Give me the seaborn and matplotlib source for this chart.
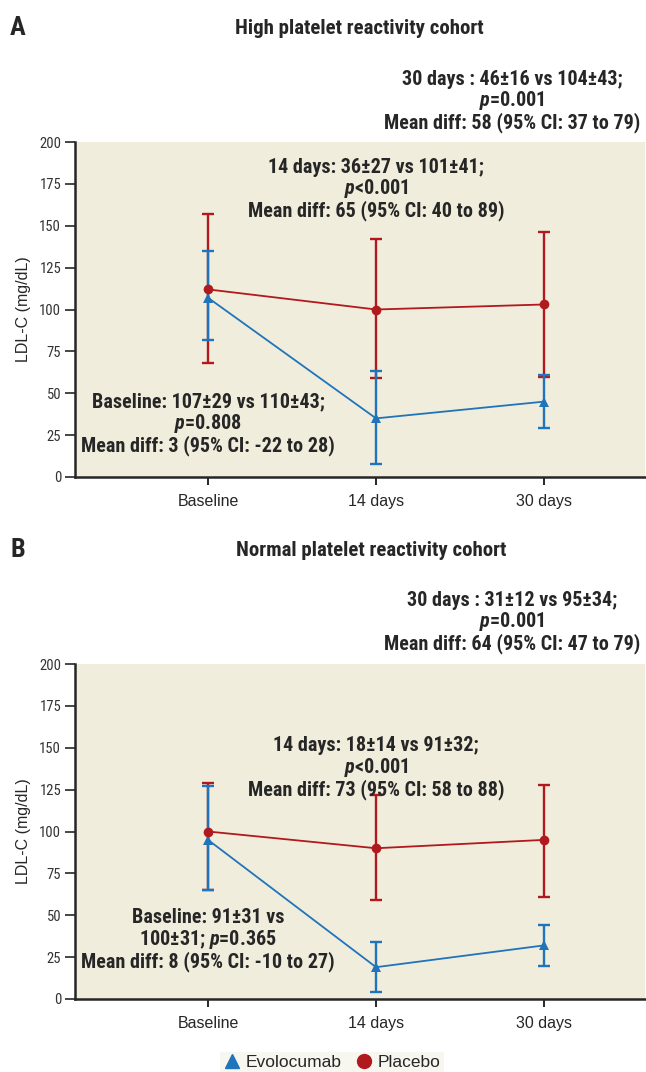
import numpy as np
import pandas as pd
import matplotlib
matplotlib.use("Agg")
import matplotlib.pyplot as plt
import seaborn as sns
from matplotlib import font_manager
from matplotlib.lines import Line2D

# %% data
timepoints = ["Baseline", "14 days", "30 days"]

# A: high platelet reactivity cohort (LDL-C, mg/dL)
a_evo_mean = [107, 35, 45]
a_evo_lo = [82, 8, 29]
a_evo_hi = [135, 63, 61]
a_pla_mean = [112, 100, 103]
a_pla_lo = [68, 59, 60]
a_pla_hi = [157, 142, 146]

# B: normal platelet reactivity cohort
b_evo_mean = [95, 19, 32]
b_evo_lo = [65, 4, 20]
b_evo_hi = [127, 34, 44]
b_pla_mean = [100, 90, 95]
b_pla_lo = [65, 59, 61]
b_pla_hi = [129, 122, 128]

a_notes = ["Baseline: 107±29 vs 110±43;\n$\\mathit{p}$=0.808\nMean diff: 3 (95% CI: -22 to 28)",
           "14 days: 36±27 vs 101±41;\n$\\mathit{p}$<0.001\nMean diff: 65 (95% CI: 40 to 89)",
           "30 days : 46±16 vs 104±43;\n$\\mathit{p}$=0.001\nMean diff: 58 (95% CI: 37 to 79)"]
b_notes = ["Baseline: 91±31 vs\n100±31; $\\mathit{p}$=0.365\nMean diff: 8 (95% CI: -10 to 27)",
           "14 days: 18±14 vs 91±32;\n$\\mathit{p}$<0.001\nMean diff: 73 (95% CI: 58 to 88)",
           "30 days : 31±12 vs 95±34;\n$\\mathit{p}$=0.001\nMean diff: 64 (95% CI: 47 to 79)"]

# %% style
sns.set_style("ticks")
available = {f.name for f in font_manager.fontManager.ttflist}
narrow = "DejaVu Sans"
for name in ["Liberation Sans Narrow", "DejaVu Sans Condensed", "Roboto Condensed", "Open Sans Condensed"]:
    if name in available:
        narrow = name
        break
plt.rcParams["font.family"] = ["Liberation Sans", "DejaVu Sans"]
plt.rcParams["mathtext.fontset"] = "custom"
plt.rcParams["mathtext.it"] = narrow + ":italic:bold"
plt.rcParams["mathtext.rm"] = narrow + ":bold"

blue = "#1f74bb"
red = "#b0191e"
bg = "#f1eddc"

fig = plt.figure(figsize=(6.46, 10.72), dpi=100)
ax_a = fig.add_axes([75/646, 1-477/1072, 570/646, 335/1072])
ax_b = fig.add_axes([75/646, 1-999/1072, 570/646, 335/1072])


def draw_panel(ax, evo_mean, evo_lo, evo_hi, pla_mean, pla_lo, pla_hi, notes, note_y):
    x = np.arange(len(timepoints))
    df = pd.DataFrame({"x": np.concatenate([x, x]),
                       "ldl": evo_mean + pla_mean,
                       "group": ["Evolocumab"] * len(x) + ["Placebo"] * len(x)})
    ax.errorbar(x, pla_mean, yerr=[np.subtract(pla_mean, pla_lo), np.subtract(pla_hi, pla_mean)],
                fmt="none", ecolor=red, elinewidth=1.7, capsize=4.5, capthick=1.7)
    ax.errorbar(x, evo_mean, yerr=[np.subtract(evo_mean, evo_lo), np.subtract(evo_hi, evo_mean)],
                fmt="none", ecolor=blue, elinewidth=1.7, capsize=4.5, capthick=1.7)
    sns.lineplot(data=df, x="x", y="ldl", hue="group", style="group",
                 palette={"Evolocumab": blue, "Placebo": red},
                 markers={"Evolocumab": "^", "Placebo": "o"}, dashes=False,
                 linewidth=1.3, markersize=7, markeredgewidth=0, legend=False, ax=ax)
    ax.set_facecolor(bg)
    ax.set_xlim(-0.792, 2.601)
    ax.set_ylim(0, 200)
    ax.set_yticks(range(0, 201, 25))
    ax.set_xticks(x, timepoints)
    ax.set_xlabel("")
    ax.set_ylabel("LDL-C (mg/dL)", fontsize=11.5, labelpad=6)
    for lab in ax.get_yticklabels():
        lab.set_fontfamily(narrow)
        lab.set_fontsize(10.5)
        lab.set_color("#333333")
    for lab in ax.get_xticklabels():
        lab.set_fontsize(11.5)
    ax.tick_params(axis="y", length=7, width=1.2, pad=3)
    ax.tick_params(axis="x", length=6, width=1.4, pad=6)
    ax.spines["top"].set_visible(False)
    ax.spines["right"].set_visible(False)
    ax.spines["left"].set_linewidth(1.8)
    ax.spines["bottom"].set_linewidth(1.8)
    note_x = [0, 1, 1.81]
    for nx, ny, txt in zip(note_x, note_y, notes):
        ax.text(nx, ny, txt, ha="center", va="center", fontsize=14.5, fontweight="bold",
                family=narrow, linespacing=1.02, clip_on=False)


draw_panel(ax_a, a_evo_mean, a_evo_lo, a_evo_hi, a_pla_mean, a_pla_lo, a_pla_hi, a_notes, [31.7, 171.6, 224])
draw_panel(ax_b, b_evo_mean, b_evo_lo, b_evo_hi, b_pla_mean, b_pla_lo, b_pla_hi, b_notes, [35.3, 138, 224.8])

fig.text(10/646, 1-28/1072, "A", fontsize=19, fontweight="bold", family=narrow, va="center")
fig.text(359/646, 1-28/1072, "High platelet reactivity cohort", fontsize=15, fontweight="bold",
         family=narrow, ha="center", va="center")
fig.text(10/646, 1-550/1072, "B", fontsize=19, fontweight="bold", family=narrow, va="center")
fig.text(371/646, 1-550/1072, "Normal platelet reactivity cohort", fontsize=15, fontweight="bold",
         family=narrow, ha="center", va="center")

handles = [Line2D([], [], color=blue, marker="^", linestyle="none", markersize=10),
           Line2D([], [], color=red, marker="o", linestyle="none", markersize=10)]
fig.legend(handles, ["Evolocumab", "Placebo"], loc="center", bbox_to_anchor=(332/646, 1-1062/1072),
           ncol=2, frameon=True, facecolor="#f6f4ec", edgecolor="none", fancybox=False,
           fontsize=12.5, handletextpad=0.3, columnspacing=0.8, handlelength=1.0, borderpad=0.15)

plt.savefig("out.png", dpi=100)
